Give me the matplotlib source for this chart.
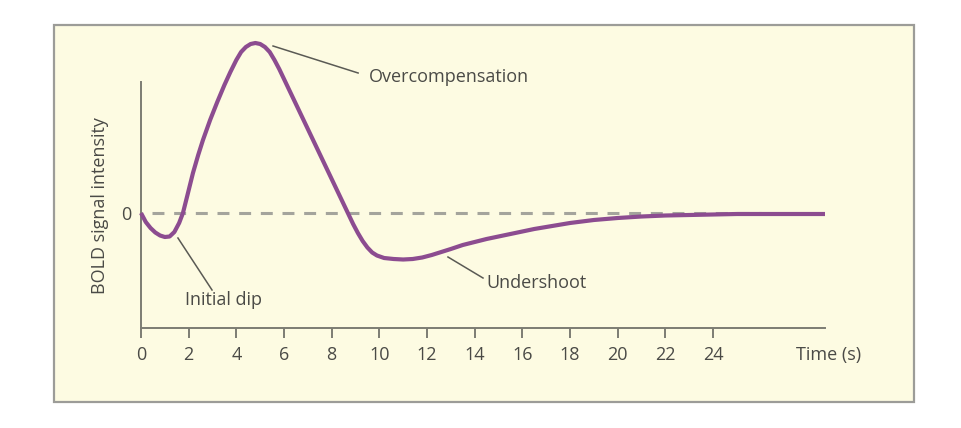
import matplotlib
matplotlib.use("Agg")
import matplotlib.pyplot as plt
from matplotlib.patches import Rectangle

# BOLD haemodynamic response
time_s = [0.0, 0.2, 0.4, 0.6, 0.8, 1.0, 1.2, 1.4, 1.6, 1.76,
          1.95, 2.18, 2.4, 2.6, 2.9, 3.2, 3.5, 3.75, 4.0, 4.2,
          4.4, 4.6, 4.8, 5.0, 5.2, 5.4, 5.6, 5.8, 6.0, 6.5,
          7.0, 7.5, 8.0, 8.5, 8.7, 8.9, 9.1, 9.3, 9.5, 9.7,
          9.9, 10.2, 10.6, 11.0, 11.4, 11.8, 12.2, 12.6, 13.0, 13.5,
          14.0, 14.5, 15.0, 15.5, 16.0, 16.5, 17.0, 17.5, 18.0, 18.5,
          19.0, 19.5, 20.0, 21.0, 22.0, 23.0, 24.0, 25.0, 28.7]
signal = [0, -9, -15, -19.5, -22.5, -24, -23.5, -19, -10, 0,
          18, 40, 58, 73, 93, 111, 128, 141, 153, 161,
          166, 169, 170, 169, 166, 161, 153, 144, 134, 109,
          84, 59, 34, 9, -1, -11, -20, -28, -34.5, -39.5,
          -42.5, -45, -46, -46.5, -46, -44.5, -42, -39, -36, -32,
          -29, -26, -23.5, -21, -18.5, -16, -14, -12, -10, -8.5,
          -7, -6, -5, -3.5, -2.5, -2, -1.5, -1, -1]

xticks = list(range(0, 25, 2))

# annotations: (label, curve point, line end, text position)
notes = [
    ("Overcompensation", (5.54, 167), (9.11, 140), (9.55, 136)),
    ("Initial dip", (1.55, -25), (2.98, -77), (1.85, -87)),
    ("Undershoot", (12.88, -44), (14.35, -65), (14.50, -70)),
]

W, H = 961, 428
fs = 13
plt.rcParams['font.family'] = ['Open Sans', 'DejaVu Sans']
plt.rcParams['lines.scale_dashes'] = False

fig = plt.figure(figsize=(W / 100, H / 100), dpi=100)
fig.patch.set_facecolor('white')
panel = Rectangle((54 / W, 1 - 402 / H), 860 / W, 377 / H,
                  transform=fig.transFigure, facecolor='#fdfbe2',
                  edgecolor='#9c9c98', lw=1.6, zorder=-5)
fig.patches.append(panel)

ax = fig.add_axes([141 / W, 1 - 328 / H, 684 / W, 246 / H])
ax.set_facecolor('none')
ax.set_xlim(0, 28.7)
ax.set_ylim(-115, 131)

axc = '#7c7c72'
txc = '#4a4a46'
for s in ('top', 'right'):
    ax.spines[s].set_visible(False)
for s in ('left', 'bottom'):
    ax.spines[s].set_color(axc)
    ax.spines[s].set_linewidth(1.4)

ax.set_xticks(xticks)
ax.set_xticklabels([str(t) for t in xticks])
ax.tick_params(axis='x', direction='out', length=7, width=1.4, color=axc,
               pad=6, labelsize=fs, labelcolor=txc)
ax.set_yticks([0])
ax.set_yticklabels(['0'])
ax.tick_params(axis='y', length=0, pad=7, labelsize=fs, labelcolor=txc)

# zero baseline
ax.plot([0.46, 26.0], [0, 0], color='#a4a49c', lw=2.2, dashes=(8.6, 7.0),
        zorder=2)

ax.plot(time_s, signal, color='#8c4c90', lw=3.0, solid_capstyle='butt',
        solid_joinstyle='round', clip_on=False, zorder=3)

for label, p0, p1, pt in notes:
    ax.plot([p0[0], p1[0]], [p0[1], p1[1]], color='#5a5a54', lw=1.1,
            clip_on=False, zorder=2)
    ax.text(pt[0], pt[1], label, ha='left', va='center', fontsize=fs,
            color=txc, clip_on=False)

ax.text(28.83, -142, 'Time (s)', ha='center', va='center', fontsize=fs,
        color=txc, clip_on=False)
fig.text(100 / W, 1 - 206 / H, 'BOLD signal intensity', rotation=90,
         ha='center', va='center', fontsize=fs, color=txc)

fig.savefig('out.png', dpi=100)
